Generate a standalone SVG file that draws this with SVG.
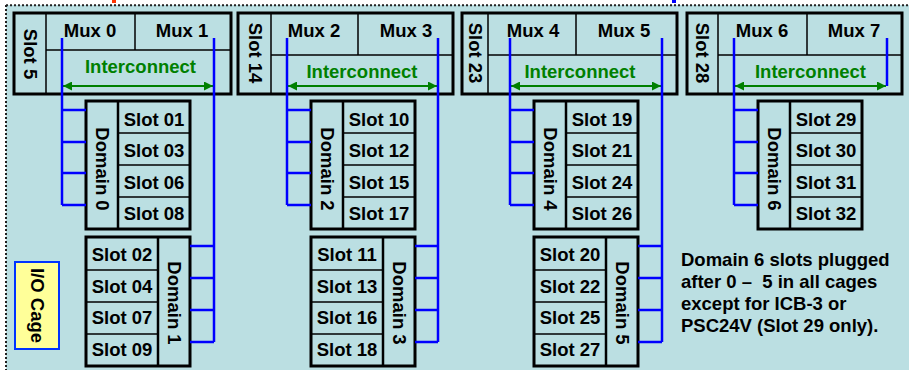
<svg xmlns="http://www.w3.org/2000/svg" width="909" height="370" viewBox="0 0 909 370">
<defs>
<style>
text{font-family:"Liberation Sans",Arial,sans-serif;font-weight:bold;font-size:18.5px;fill:#000}
.mid{text-anchor:middle}
.green{fill:#008000}
.pre{white-space:pre}
.box{fill:none;stroke:#000;stroke-width:3}
.thin{stroke:#000;stroke-width:1.5;fill:none}
.div{stroke:#000;stroke-width:2.5;fill:none}
.blue{stroke:#0000ff;stroke-width:2.5;fill:none}
.arrow{stroke:#008000;stroke-width:2;fill:none;marker-start:url(#ah);marker-end:url(#ah)}
.dots{stroke:#222;stroke-width:2;stroke-dasharray:2 2;fill:none}
</style>
<marker id="ah" viewBox="0 0 10 10" refX="10" refY="5" markerWidth="4.5" markerHeight="4.5" orient="auto-start-reverse" markerUnits="strokeWidth">
<path d="M0,0 L10,5 L0,10 z" fill="#008000"/>
</marker>
</defs>
<rect width="909" height="370" fill="#fff"/>
<rect x="6" y="5" width="903" height="365" fill="#bbdfe2"/>
<line class="dots" x1="6" y1="5.3" x2="909" y2="5.3"/>
<line class="dots" x1="6" y1="5" x2="6" y2="370"/>
<rect x="112" y="0" width="4" height="3" fill="#ff3300"/>
<rect x="672" y="0" width="4" height="3" fill="#0000ff"/>

<g id="cage1">
<rect class="box" x="14" y="13" width="217" height="81"/>
<line class="thin" x1="46" y1="13" x2="46" y2="94"/>
<line class="thin" x1="46" y1="50" x2="231" y2="50"/>
<line class="thin" x1="135" y1="13" x2="135" y2="50"/>
<text transform="translate(30,54) rotate(90)" class="mid" y="6.5">Slot 5</text>
<text class="mid" x="90" y="37">Mux 0</text>
<text class="mid" x="182" y="37">Mux 1</text>
<text class="mid green" x="140.5" y="73">Interconnect</text>
</g>
<g id="cage2">
<rect class="box" x="238" y="13" width="215" height="81"/>
<line class="thin" x1="271" y1="13" x2="271" y2="94"/>
<line class="thin" x1="271" y1="55" x2="453" y2="55"/>
<line class="thin" x1="358" y1="13" x2="358" y2="55"/>
<text transform="translate(255,53) rotate(90)" class="mid" y="6.5">Slot 14</text>
<text class="mid" x="314" y="37">Mux 2</text>
<text class="mid" x="406" y="37">Mux 3</text>
<text class="mid green" x="362" y="78">Interconnect</text>
</g>
<g id="cage3">
<rect class="box" x="462" y="13" width="215" height="81"/>
<line class="thin" x1="488" y1="13" x2="488" y2="94"/>
<line class="thin" x1="488" y1="55" x2="677" y2="55"/>
<line class="thin" x1="576" y1="13" x2="576" y2="55"/>
<text transform="translate(475,53) rotate(90)" class="mid" y="6.5">Slot 23</text>
<text class="mid" x="533" y="37">Mux 4</text>
<text class="mid" x="624" y="37">Mux 5</text>
<text class="mid green" x="580" y="78">Interconnect</text>
</g>
<g id="cage4">
<rect class="box" x="687" y="13" width="215" height="81"/>
<line class="thin" x1="718" y1="13" x2="718" y2="94"/>
<line class="thin" x1="718" y1="55" x2="902" y2="55"/>
<line class="thin" x1="807" y1="13" x2="807" y2="55"/>
<text transform="translate(702.5,53) rotate(90)" class="mid" y="6.5">Slot 28</text>
<text class="mid" x="762" y="37">Mux 6</text>
<text class="mid" x="854" y="37">Mux 7</text>
<text class="mid green" x="810.5" y="78">Interconnect</text>
</g>

<g id="domain0">
<rect class="box" x="86" y="101" width="104" height="128"/>
<line class="div" x1="118" y1="101" x2="118" y2="229"/>
<line class="thin" x1="118" y1="133" x2="190" y2="133"/>
<line class="thin" x1="118" y1="165" x2="190" y2="165"/>
<line class="thin" x1="118" y1="197" x2="190" y2="197"/>
<text transform="translate(102,169) rotate(90)" class="mid" y="6.5">Domain 0</text>
<text class="mid" x="154" y="125.5">Slot 01</text>
<text class="mid" x="154" y="157">Slot 03</text>
<text class="mid" x="154" y="188.5">Slot 06</text>
<text class="mid" x="154" y="220">Slot 08</text>
</g>
<g id="domain2">
<rect class="box" x="311" y="101" width="104" height="128"/>
<line class="div" x1="343" y1="101" x2="343" y2="229"/>
<line class="thin" x1="343" y1="133" x2="415" y2="133"/>
<line class="thin" x1="343" y1="165" x2="415" y2="165"/>
<line class="thin" x1="343" y1="197" x2="415" y2="197"/>
<text transform="translate(327,169) rotate(90)" class="mid" y="6.5">Domain 2</text>
<text class="mid" x="379" y="125.5">Slot 10</text>
<text class="mid" x="379" y="157">Slot 12</text>
<text class="mid" x="379" y="188.5">Slot 15</text>
<text class="mid" x="379" y="220">Slot 17</text>
</g>
<g id="domain4">
<rect class="box" x="534" y="101" width="104" height="128"/>
<line class="div" x1="566" y1="101" x2="566" y2="229"/>
<line class="thin" x1="566" y1="133" x2="638" y2="133"/>
<line class="thin" x1="566" y1="165" x2="638" y2="165"/>
<line class="thin" x1="566" y1="197" x2="638" y2="197"/>
<text transform="translate(550,169) rotate(90)" class="mid" y="6.5">Domain 4</text>
<text class="mid" x="602" y="125.5">Slot 19</text>
<text class="mid" x="602" y="157">Slot 21</text>
<text class="mid" x="602" y="188.5">Slot 24</text>
<text class="mid" x="602" y="220">Slot 26</text>
</g>
<g id="domain6">
<rect class="box" x="758" y="101" width="104" height="128"/>
<line class="div" x1="790" y1="101" x2="790" y2="229"/>
<line class="thin" x1="790" y1="133" x2="862" y2="133"/>
<line class="thin" x1="790" y1="165" x2="862" y2="165"/>
<line class="thin" x1="790" y1="197" x2="862" y2="197"/>
<text transform="translate(774,169) rotate(90)" class="mid" y="6.5">Domain 6</text>
<text class="mid" x="826" y="125.5">Slot 29</text>
<text class="mid" x="826" y="157">Slot 30</text>
<text class="mid" x="826" y="188.5">Slot 31</text>
<text class="mid" x="826" y="220">Slot 32</text>
</g>

<g id="domain1">
<rect class="box" x="86" y="237" width="104" height="129"/>
<line class="div" x1="158" y1="237" x2="158" y2="366"/>
<line class="thin" x1="86" y1="270" x2="158" y2="270"/>
<line class="thin" x1="86" y1="302" x2="158" y2="302"/>
<line class="thin" x1="86" y1="334" x2="158" y2="334"/>
<text transform="translate(174,303) rotate(90)" class="mid" y="6.5">Domain 1</text>
<text class="mid" x="122" y="261">Slot 02</text>
<text class="mid" x="122" y="292.5">Slot 04</text>
<text class="mid" x="122" y="324">Slot 07</text>
<text class="mid" x="122" y="355.5">Slot 09</text>
</g>
<g id="domain3">
<rect class="box" x="311" y="237" width="104" height="129"/>
<line class="div" x1="383" y1="237" x2="383" y2="366"/>
<line class="thin" x1="311" y1="270" x2="383" y2="270"/>
<line class="thin" x1="311" y1="302" x2="383" y2="302"/>
<line class="thin" x1="311" y1="334" x2="383" y2="334"/>
<text transform="translate(399,303) rotate(90)" class="mid" y="6.5">Domain 3</text>
<text class="mid" x="347" y="261">Slot 11</text>
<text class="mid" x="347" y="292.5">Slot 13</text>
<text class="mid" x="347" y="324">Slot 16</text>
<text class="mid" x="347" y="355.5">Slot 18</text>
</g>
<g id="domain5">
<rect class="box" x="534" y="237" width="104" height="129"/>
<line class="div" x1="606" y1="237" x2="606" y2="366"/>
<line class="thin" x1="534" y1="270" x2="606" y2="270"/>
<line class="thin" x1="534" y1="302" x2="606" y2="302"/>
<line class="thin" x1="534" y1="334" x2="606" y2="334"/>
<text transform="translate(622,303) rotate(90)" class="mid" y="6.5">Domain 5</text>
<text class="mid" x="570" y="261">Slot 20</text>
<text class="mid" x="570" y="292.5">Slot 22</text>
<text class="mid" x="570" y="324">Slot 25</text>
<text class="mid" x="570" y="355.5">Slot 27</text>
</g>

<g id="io-cage">
<rect x="15" y="262" width="44" height="87" fill="#ffff99" stroke="#0033ff" stroke-width="2"/>
<text transform="translate(37,305.5) rotate(90)" class="mid" y="6.5">I/O Cage</text>
</g>

<g id="note">
<text x="681" y="265.5">Domain 6 slots plugged</text>
<text x="681" y="287.5" class="pre">after 0 –  5 in all cages</text>
<text x="681" y="309.5">except for ICB-3 or</text>
<text x="681" y="331.5">PSC24V (Slot 29 only).</text>
</g>

<g id="connectors">
<line class="arrow" x1="63" y1="86" x2="213" y2="86"/>
<line class="arrow" x1="288" y1="86" x2="437" y2="86"/>
<line class="arrow" x1="511" y1="86" x2="661" y2="86"/>
<line class="arrow" x1="735" y1="86" x2="886" y2="86"/>
<path class="blue" d="M62,38 V205 M62,110 H86 M62,142 H86 M62,173 H86 M62,205 H86"/>
<path class="blue" d="M214,38 V342 M190,246 H214 M190,278 H214 M190,310 H214 M190,342 H214"/>
<path class="blue" d="M287,38 V205 M287,110 H311 M287,142 H311 M287,173 H311 M287,205 H311"/>
<path class="blue" d="M438,38 V342 M415,246 H438 M415,278 H438 M415,310 H438 M415,342 H438"/>
<path class="blue" d="M510,38 V205 M510,110 H534 M510,142 H534 M510,173 H534 M510,205 H534"/>
<path class="blue" d="M662,38 V342 M638,246 H662 M638,278 H662 M638,310 H662 M638,342 H662"/>
<path class="blue" d="M734,38 V205 M734,110 H758 M734,142 H758 M734,173 H758 M734,205 H758"/>
<path class="blue" d="M887,38 V86"/>
</g>
</svg>
